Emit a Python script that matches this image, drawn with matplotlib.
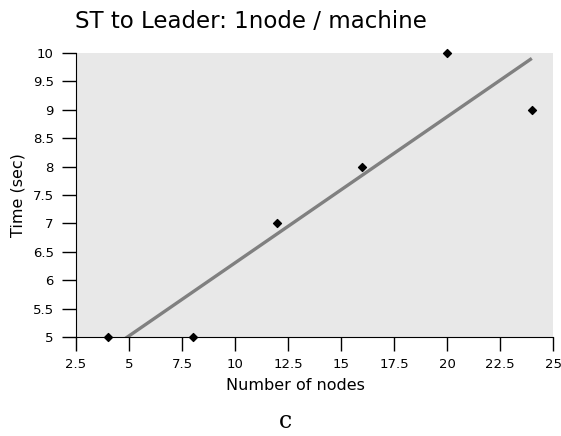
import numpy as np
import matplotlib
matplotlib.use("Agg")
import matplotlib.pyplot as plt

nodes = [4, 8, 12, 16, 20, 24]
times = [5, 5, 7, 8, 10, 9]
xticks = [2.5, 5, 7.5, 10, 12.5, 15, 17.5, 20, 22.5, 25]
yticks = [5, 5.5, 6, 6.5, 7, 7.5, 8, 8.5, 9, 9.5, 10]

fig = plt.figure(figsize=(5.61, 4.36), dpi=100)
ax = fig.add_axes([76/561, 1-337/436, (553-76)/561, (337-53)/436])
ax.set_facecolor("#e8e8e8")

slope, intercept = np.polyfit(nodes, times, 1)
fx = np.array([min(nodes), max(nodes)])
ax.plot(fx, slope*fx + intercept, color="#808080", lw=2.4, solid_capstyle="butt", zorder=2)
ax.scatter(nodes, times, marker="D", s=16, color="black", zorder=3, clip_on=False)

ax.set_xlim(2.5, 25)
ax.set_ylim(5, 10)
ax.set_xticks(xticks)
ax.set_xticklabels([f"{t:g}" for t in xticks])
ax.set_yticks(yticks)
ax.set_yticklabels([f"{t:g}" for t in yticks])
for s in ["top", "right"]:
    ax.spines[s].set_visible(False)
ax.tick_params(direction="out", length=10, width=1, labelsize=9.5, pad=5)
ax.tick_params(axis="y", pad=6)
ax.set_xlabel("Number of nodes", fontsize=11.5)
ax.xaxis.set_label_coords((295-76)/(553-76), -(385-337)/(337-53))
ax.xaxis.label.set_va("center")
ax.set_ylabel("Time (sec)", fontsize=11.5)
ax.yaxis.set_label_coords(-(76-18)/(553-76), 0.5)
ax.yaxis.label.set_va("center")
fig.text(251/561, 1-22/436, "ST to Leader: 1node / machine", fontsize=16.5, ha="center", va="center")
fig.text(285/561, 1-421/436, "c", fontsize=17, ha="center", va="center", family="DejaVu Serif")

fig.savefig("out.png", dpi=100)
